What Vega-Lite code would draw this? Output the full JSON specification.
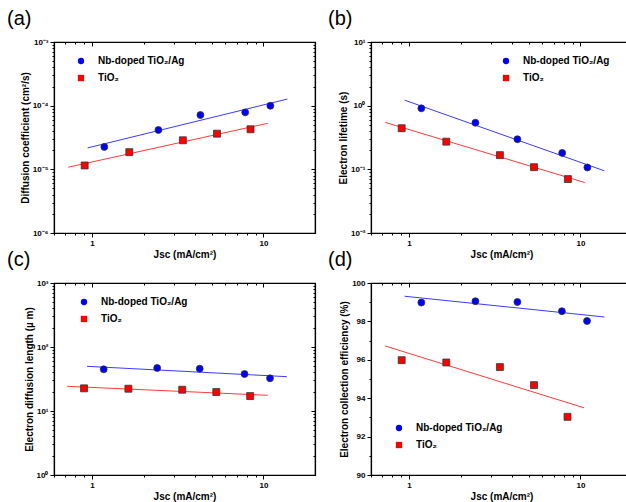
{
  "$schema": "https://vega.github.io/schema/vega-lite/v6.json",
  "padding": {"left": 6, "top": 8, "right": 0, "bottom": 0},
  "datasets": {
    "points": [
      {"panel": "a", "series": "Nb-doped TiO₂/Ag", "x": 1.18, "y": 2.25e-5},
      {"panel": "a", "series": "Nb-doped TiO₂/Ag", "x": 2.44, "y": 4.15e-5},
      {"panel": "a", "series": "Nb-doped TiO₂/Ag", "x": 4.29, "y": 7.13e-5},
      {"panel": "a", "series": "Nb-doped TiO₂/Ag", "x": 7.83, "y": 7.85e-5},
      {"panel": "a", "series": "Nb-doped TiO₂/Ag", "x": 10.98, "y": 9.95e-5},
      {"panel": "a", "series": "TiO₂", "x": 0.906, "y": 1.15e-5},
      {"panel": "a", "series": "TiO₂", "x": 1.65, "y": 1.86e-5},
      {"panel": "a", "series": "TiO₂", "x": 3.39, "y": 2.86e-5},
      {"panel": "a", "series": "TiO₂", "x": 5.36, "y": 3.63e-5},
      {"panel": "a", "series": "TiO₂", "x": 8.41, "y": 4.26e-5},
      {"panel": "b", "series": "Nb-doped TiO₂/Ag", "x": 1.18, "y": 0.908},
      {"panel": "b", "series": "Nb-doped TiO₂/Ag", "x": 2.44, "y": 0.539},
      {"panel": "b", "series": "Nb-doped TiO₂/Ag", "x": 4.29, "y": 0.297},
      {"panel": "b", "series": "Nb-doped TiO₂/Ag", "x": 7.83, "y": 0.181},
      {"panel": "b", "series": "Nb-doped TiO₂/Ag", "x": 10.98, "y": 0.107},
      {"panel": "b", "series": "TiO₂", "x": 0.906, "y": 0.442},
      {"panel": "b", "series": "TiO₂", "x": 1.65, "y": 0.272},
      {"panel": "b", "series": "TiO₂", "x": 3.39, "y": 0.167},
      {"panel": "b", "series": "TiO₂", "x": 5.36, "y": 0.108},
      {"panel": "b", "series": "TiO₂", "x": 8.45, "y": 0.0703},
      {"panel": "c", "series": "Nb-doped TiO₂/Ag", "x": 1.17, "y": 44.8},
      {"panel": "c", "series": "Nb-doped TiO₂/Ag", "x": 2.4, "y": 47},
      {"panel": "c", "series": "Nb-doped TiO₂/Ag", "x": 4.25, "y": 45.8},
      {"panel": "c", "series": "Nb-doped TiO₂/Ag", "x": 7.76, "y": 37.8},
      {"panel": "c", "series": "Nb-doped TiO₂/Ag", "x": 10.93, "y": 32.4},
      {"panel": "c", "series": "TiO₂", "x": 0.898, "y": 22.6},
      {"panel": "c", "series": "TiO₂", "x": 1.63, "y": 22.3},
      {"panel": "c", "series": "TiO₂", "x": 3.36, "y": 21.5},
      {"panel": "c", "series": "TiO₂", "x": 5.31, "y": 19.8},
      {"panel": "c", "series": "TiO₂", "x": 8.37, "y": 17.1},
      {"panel": "d", "series": "Nb-doped TiO₂/Ag", "x": 1.18, "y": 98.98},
      {"panel": "d", "series": "Nb-doped TiO₂/Ag", "x": 2.44, "y": 99.05},
      {"panel": "d", "series": "Nb-doped TiO₂/Ag", "x": 4.29, "y": 99.01},
      {"panel": "d", "series": "Nb-doped TiO₂/Ag", "x": 7.8, "y": 98.53},
      {"panel": "d", "series": "Nb-doped TiO₂/Ag", "x": 10.93, "y": 98.02},
      {"panel": "d", "series": "TiO₂", "x": 0.906, "y": 95.98},
      {"panel": "d", "series": "TiO₂", "x": 1.65, "y": 95.86},
      {"panel": "d", "series": "TiO₂", "x": 3.39, "y": 95.62},
      {"panel": "d", "series": "TiO₂", "x": 5.36, "y": 94.68},
      {"panel": "d", "series": "TiO₂", "x": 8.41, "y": 93.03}
    ],
    "fits": [
      {"panel": "a", "series": "Nb-doped TiO₂/Ag", "x": 0.943, "y": 2.17e-5},
      {"panel": "a", "series": "Nb-doped TiO₂/Ag", "x": 13.8, "y": 1.27e-4},
      {"panel": "a", "series": "TiO₂", "x": 0.726, "y": 1.08e-5},
      {"panel": "a", "series": "TiO₂", "x": 10.6, "y": 5.29e-5},
      {"panel": "b", "series": "Nb-doped TiO₂/Ag", "x": 0.943, "y": 1.22},
      {"panel": "b", "series": "Nb-doped TiO₂/Ag", "x": 13.8, "y": 0.0948},
      {"panel": "b", "series": "TiO₂", "x": 0.726, "y": 0.547},
      {"panel": "b", "series": "TiO₂", "x": 10.6, "y": 0.0621},
      {"panel": "c", "series": "Nb-doped TiO₂/Ag", "x": 0.935, "y": 49.9},
      {"panel": "c", "series": "Nb-doped TiO₂/Ag", "x": 13.7, "y": 34.4},
      {"panel": "c", "series": "TiO₂", "x": 0.716, "y": 24.3},
      {"panel": "c", "series": "TiO₂", "x": 10.6, "y": 17.6},
      {"panel": "d", "series": "Nb-doped TiO₂/Ag", "x": 0.943, "y": 99.31},
      {"panel": "d", "series": "Nb-doped TiO₂/Ag", "x": 13.8, "y": 98.23},
      {"panel": "d", "series": "TiO₂", "x": 0.726, "y": 96.72},
      {"panel": "d", "series": "TiO₂", "x": 10.5, "y": 93.5}
    ]
  },
  "columns": 2,
  "spacing": {"row": -11, "column": 10},
  "resolve": {
    "scale": {"fill": "independent", "shape": "independent"},
    "legend": {"fill": "independent", "shape": "independent"}
  },
  "concat": [
    {
      "width": 261, "height": 191,
      "title": {"text": "(a)", "anchor": "start", "frame": "group", "dx": -47, "offset": 9},
      "layer": [
        {
          "data": {"name": "fits"},
          "transform": [{"filter": "datum.panel == 'a' && datum.series == 'TiO₂'"}],
          "mark": {"type": "line", "strokeWidth": 1, "clip": true, "color": "#ff3a3a"},
          "encoding": {
            "x": {"field": "x", "type": "quantitative", "scale": {"type": "log", "domain": [0.6, 20], "nice": false},
                  "axis": {"orient": "top", "labels": false, "title": null, "values": [0.6,0.7,0.8,0.9,1,2,3,4,5,6,7,8,9,10],
                           "tickSize": {"expr": "datum.value == 1 || datum.value == 10 ? -4 : -2"}}},
            "y": {"field": "y", "type": "quantitative", "scale": {"type": "log", "domain": [1e-6, 1e-3], "nice": false},
                  "axis": {"orient": "right", "labels": false, "title": null,
                           "values": [1e-6,2e-6,3e-6,4e-6,5e-6,6e-6,7e-6,8e-6,9e-6,1e-5,2e-5,3e-5,4e-5,5e-5,6e-5,7e-5,8e-5,9e-5,1e-4,2e-4,3e-4,4e-4,5e-4,6e-4,7e-4,8e-4,9e-4,1e-3],
                           "tickSize": {"expr": "abs(log(datum.value)/LN10 - round(log(datum.value)/LN10)) < 0.001 ? -4 : -2"}}}
          }
        },
        {
          "data": {"name": "fits"},
          "transform": [{"filter": "datum.panel == 'a' && datum.series != 'TiO₂'"}],
          "mark": {"type": "line", "strokeWidth": 1, "clip": true, "color": "#3a3aff"},
          "encoding": {
            "x": {"field": "x", "type": "quantitative", "scale": {"type": "log", "domain": [0.6, 20], "nice": false}, "axis": null},
            "y": {"field": "y", "type": "quantitative", "scale": {"type": "log", "domain": [1e-6, 1e-3], "nice": false}, "axis": null}
          }
        },
        {
          "data": {"name": "points"},
          "transform": [{"filter": "datum.panel == 'a'"}],
          "mark": {"type": "point", "filled": true, "stroke": "#333333", "strokeWidth": 0.8, "size": 48, "opacity": 1},
          "encoding": {
            "x": {"field": "x", "type": "quantitative", "scale": {"type": "log", "domain": [0.6, 20], "nice": false},
                  "axis": {"orient": "bottom", "title": "Jsc (mA/cm²)", "values": [0.6,0.7,0.8,0.9,1,2,3,4,5,6,7,8,9,10],
                           "labelExpr": "datum.value == 1 ? '1' : datum.value == 10 ? '10' : ''",
                           "tickSize": {"expr": "datum.value == 1 || datum.value == 10 ? 4 : 2"}}},
            "y": {"field": "y", "type": "quantitative", "scale": {"type": "log", "domain": [1e-6, 1e-3], "nice": false},
                  "axis": {"orient": "left", "title": "Diffusion coefficient (cm²/s)",
                           "values": [1e-6,2e-6,3e-6,4e-6,5e-6,6e-6,7e-6,8e-6,9e-6,1e-5,2e-5,3e-5,4e-5,5e-5,6e-5,7e-5,8e-5,9e-5,1e-4,2e-4,3e-4,4e-4,5e-4,6e-4,7e-4,8e-4,9e-4,1e-3],
                           "labelExpr": "datum.value == 1e-6 ? '10⁻⁶' : datum.value == 1e-5 ? '10⁻⁵' : datum.value == 1e-4 ? '10⁻⁴' : datum.value == 1e-3 ? '10⁻³' : ''",
                           "tickSize": {"expr": "abs(log(datum.value)/LN10 - round(log(datum.value)/LN10)) < 0.001 ? 4 : 2"}}},
            "fill": {"field": "series", "type": "nominal", "scale": {"domain": ["Nb-doped TiO₂/Ag", "TiO₂"], "range": ["#0000ff", "#ff0000"]},
                     "legend": {"orient": "none", "legendX": 22, "legendY": 14, "title": null}},
            "shape": {"field": "series", "type": "nominal", "scale": {"domain": ["Nb-doped TiO₂/Ag", "TiO₂"], "range": ["circle", "square"]},
                      "legend": {"orient": "none", "legendX": 22, "legendY": 14, "title": null}}
          }
        }
      ],
      "resolve": {"axis": {"x": "independent", "y": "independent"}}
    },
    {
      "width": 261, "height": 191,
      "title": {"text": "(b)", "anchor": "start", "frame": "group", "dx": -43, "offset": 9},
      "layer": [
        {
          "data": {"name": "fits"},
          "transform": [{"filter": "datum.panel == 'b' && datum.series == 'TiO₂'"}],
          "mark": {"type": "line", "strokeWidth": 1, "clip": true, "color": "#ff3a3a"},
          "encoding": {
            "x": {"field": "x", "type": "quantitative", "scale": {"type": "log", "domain": [0.6, 20], "nice": false},
                  "axis": {"orient": "top", "labels": false, "title": null, "values": [0.6,0.7,0.8,0.9,1,2,3,4,5,6,7,8,9,10],
                           "tickSize": {"expr": "datum.value == 1 || datum.value == 10 ? -4 : -2"}}},
            "y": {"field": "y", "type": "quantitative", "scale": {"type": "log", "domain": [0.01, 10], "nice": false},
                  "axis": {"orient": "right", "labels": false, "title": null,
                           "values": [0.01,0.02,0.03,0.04,0.05,0.06,0.07,0.08,0.09,0.1,0.2,0.3,0.4,0.5,0.6,0.7,0.8,0.9,1,2,3,4,5,6,7,8,9,10],
                           "tickSize": {"expr": "abs(log(datum.value)/LN10 - round(log(datum.value)/LN10)) < 0.001 ? -4 : -2"}}}
          }
        },
        {
          "data": {"name": "fits"},
          "transform": [{"filter": "datum.panel == 'b' && datum.series != 'TiO₂'"}],
          "mark": {"type": "line", "strokeWidth": 1, "clip": true, "color": "#3a3aff"},
          "encoding": {
            "x": {"field": "x", "type": "quantitative", "scale": {"type": "log", "domain": [0.6, 20], "nice": false}, "axis": null},
            "y": {"field": "y", "type": "quantitative", "scale": {"type": "log", "domain": [0.01, 10], "nice": false}, "axis": null}
          }
        },
        {
          "data": {"name": "points"},
          "transform": [{"filter": "datum.panel == 'b'"}],
          "mark": {"type": "point", "filled": true, "stroke": "#333333", "strokeWidth": 0.8, "size": 48, "opacity": 1},
          "encoding": {
            "x": {"field": "x", "type": "quantitative", "scale": {"type": "log", "domain": [0.6, 20], "nice": false},
                  "axis": {"orient": "bottom", "title": "Jsc (mA/cm²)", "values": [0.6,0.7,0.8,0.9,1,2,3,4,5,6,7,8,9,10],
                           "labelExpr": "datum.value == 1 ? '1' : datum.value == 10 ? '10' : ''",
                           "tickSize": {"expr": "datum.value == 1 || datum.value == 10 ? 4 : 2"}}},
            "y": {"field": "y", "type": "quantitative", "scale": {"type": "log", "domain": [0.01, 10], "nice": false},
                  "axis": {"orient": "left", "title": "Electron lifetime (s)",
                           "values": [0.01,0.02,0.03,0.04,0.05,0.06,0.07,0.08,0.09,0.1,0.2,0.3,0.4,0.5,0.6,0.7,0.8,0.9,1,2,3,4,5,6,7,8,9,10],
                           "labelExpr": "datum.value == 0.01 ? '10⁻²' : datum.value == 0.1 ? '10⁻¹' : datum.value == 1 ? '10⁰' : datum.value == 10 ? '10¹' : ''",
                           "tickSize": {"expr": "abs(log(datum.value)/LN10 - round(log(datum.value)/LN10)) < 0.001 ? 4 : 2"}}},
            "fill": {"field": "series", "type": "nominal", "scale": {"domain": ["Nb-doped TiO₂/Ag", "TiO₂"], "range": ["#0000ff", "#ff0000"]},
                     "legend": {"orient": "none", "legendX": 130, "legendY": 14, "title": null}},
            "shape": {"field": "series", "type": "nominal", "scale": {"domain": ["Nb-doped TiO₂/Ag", "TiO₂"], "range": ["circle", "square"]},
                      "legend": {"orient": "none", "legendX": 130, "legendY": 14, "title": null}}
          }
        }
      ],
      "resolve": {"axis": {"x": "independent", "y": "independent"}}
    },
    {
      "width": 261, "height": 192,
      "title": {"text": "(c)", "anchor": "start", "frame": "group", "dx": -47, "offset": 9},
      "layer": [
        {
          "data": {"name": "fits"},
          "transform": [{"filter": "datum.panel == 'c' && datum.series == 'TiO₂'"}],
          "mark": {"type": "line", "strokeWidth": 1, "clip": true, "color": "#ff3a3a"},
          "encoding": {
            "x": {"field": "x", "type": "quantitative", "scale": {"type": "log", "domain": [0.6, 20], "nice": false},
                  "axis": {"orient": "top", "labels": false, "title": null, "values": [0.6,0.7,0.8,0.9,1,2,3,4,5,6,7,8,9,10],
                           "tickSize": {"expr": "datum.value == 1 || datum.value == 10 ? -4 : -2"}}},
            "y": {"field": "y", "type": "quantitative", "scale": {"type": "log", "domain": [1, 1000], "nice": false},
                  "axis": {"orient": "right", "labels": false, "title": null,
                           "values": [1,2,3,4,5,6,7,8,9,10,20,30,40,50,60,70,80,90,100,200,300,400,500,600,700,800,900,1000],
                           "tickSize": {"expr": "abs(log(datum.value)/LN10 - round(log(datum.value)/LN10)) < 0.001 ? -4 : -2"}}}
          }
        },
        {
          "data": {"name": "fits"},
          "transform": [{"filter": "datum.panel == 'c' && datum.series != 'TiO₂'"}],
          "mark": {"type": "line", "strokeWidth": 1, "clip": true, "color": "#3a3aff"},
          "encoding": {
            "x": {"field": "x", "type": "quantitative", "scale": {"type": "log", "domain": [0.6, 20], "nice": false}, "axis": null},
            "y": {"field": "y", "type": "quantitative", "scale": {"type": "log", "domain": [1, 1000], "nice": false}, "axis": null}
          }
        },
        {
          "data": {"name": "points"},
          "transform": [{"filter": "datum.panel == 'c'"}],
          "mark": {"type": "point", "filled": true, "stroke": "#333333", "strokeWidth": 0.8, "size": 48, "opacity": 1},
          "encoding": {
            "x": {"field": "x", "type": "quantitative", "scale": {"type": "log", "domain": [0.6, 20], "nice": false},
                  "axis": {"orient": "bottom", "title": "Jsc (mA/cm²)", "values": [0.6,0.7,0.8,0.9,1,2,3,4,5,6,7,8,9,10],
                           "labelExpr": "datum.value == 1 ? '1' : datum.value == 10 ? '10' : ''",
                           "tickSize": {"expr": "datum.value == 1 || datum.value == 10 ? 4 : 2"}}},
            "y": {"field": "y", "type": "quantitative", "scale": {"type": "log", "domain": [1, 1000], "nice": false},
                  "axis": {"orient": "left", "title": "Electron diffusion length (µ m)",
                           "values": [1,2,3,4,5,6,7,8,9,10,20,30,40,50,60,70,80,90,100,200,300,400,500,600,700,800,900,1000],
                           "labelExpr": "datum.value == 1 ? '10⁰' : datum.value == 10 ? '10¹' : datum.value == 100 ? '10²' : datum.value == 1000 ? '10³' : ''",
                           "tickSize": {"expr": "abs(log(datum.value)/LN10 - round(log(datum.value)/LN10)) < 0.001 ? 4 : 2"}}},
            "fill": {"field": "series", "type": "nominal", "scale": {"domain": ["Nb-doped TiO₂/Ag", "TiO₂"], "range": ["#0000ff", "#ff0000"]},
                     "legend": {"orient": "none", "legendX": 25, "legendY": 14, "title": null}},
            "shape": {"field": "series", "type": "nominal", "scale": {"domain": ["Nb-doped TiO₂/Ag", "TiO₂"], "range": ["circle", "square"]},
                      "legend": {"orient": "none", "legendX": 25, "legendY": 14, "title": null}}
          }
        }
      ],
      "resolve": {"axis": {"x": "independent", "y": "independent"}}
    },
    {
      "width": 261, "height": 192,
      "title": {"text": "(d)", "anchor": "start", "frame": "group", "dx": -43, "offset": 9},
      "layer": [
        {
          "data": {"name": "fits"},
          "transform": [{"filter": "datum.panel == 'd' && datum.series == 'TiO₂'"}],
          "mark": {"type": "line", "strokeWidth": 1, "clip": true, "color": "#ff3a3a"},
          "encoding": {
            "x": {"field": "x", "type": "quantitative", "scale": {"type": "log", "domain": [0.6, 20], "nice": false},
                  "axis": {"orient": "top", "labels": false, "title": null, "values": [0.6,0.7,0.8,0.9,1,2,3,4,5,6,7,8,9,10],
                           "tickSize": {"expr": "datum.value == 1 || datum.value == 10 ? -4 : -2"}}},
            "y": {"field": "y", "type": "quantitative", "scale": {"type": "linear", "domain": [90, 100], "zero": false, "nice": false},
                  "axis": {"orient": "right", "labels": false, "title": null,
                           "values": [90,91,92,93,94,95,96,97,98,99,100],
                           "tickSize": {"expr": "datum.value % 2 == 0 ? -4 : -2"}}}
          }
        },
        {
          "data": {"name": "fits"},
          "transform": [{"filter": "datum.panel == 'd' && datum.series != 'TiO₂'"}],
          "mark": {"type": "line", "strokeWidth": 1, "clip": true, "color": "#3a3aff"},
          "encoding": {
            "x": {"field": "x", "type": "quantitative", "scale": {"type": "log", "domain": [0.6, 20], "nice": false}, "axis": null},
            "y": {"field": "y", "type": "quantitative", "scale": {"type": "linear", "domain": [90, 100], "zero": false, "nice": false}, "axis": null}
          }
        },
        {
          "data": {"name": "points"},
          "transform": [{"filter": "datum.panel == 'd'"}],
          "mark": {"type": "point", "filled": true, "stroke": "#333333", "strokeWidth": 0.8, "size": 48, "opacity": 1},
          "encoding": {
            "x": {"field": "x", "type": "quantitative", "scale": {"type": "log", "domain": [0.6, 20], "nice": false},
                  "axis": {"orient": "bottom", "title": "Jsc (mA/cm²)", "values": [0.6,0.7,0.8,0.9,1,2,3,4,5,6,7,8,9,10],
                           "labelExpr": "datum.value == 1 ? '1' : datum.value == 10 ? '10' : ''",
                           "tickSize": {"expr": "datum.value == 1 || datum.value == 10 ? 4 : 2"}}},
            "y": {"field": "y", "type": "quantitative", "scale": {"type": "linear", "domain": [90, 100], "zero": false, "nice": false},
                  "axis": {"orient": "left", "title": "Electron collection efficiency (%)",
                           "values": [90,91,92,93,94,95,96,97,98,99,100],
                           "labelExpr": "datum.value % 2 == 0 ? datum.label : ''",
                           "tickSize": {"expr": "datum.value % 2 == 0 ? 4 : 2"}}},
            "fill": {"field": "series", "type": "nominal", "scale": {"domain": ["Nb-doped TiO₂/Ag", "TiO₂"], "range": ["#0000ff", "#ff0000"]},
                     "legend": {"orient": "none", "legendX": 23, "legendY": 140, "title": null}},
            "shape": {"field": "series", "type": "nominal", "scale": {"domain": ["Nb-doped TiO₂/Ag", "TiO₂"], "range": ["circle", "square"]},
                      "legend": {"orient": "none", "legendX": 23, "legendY": 140, "title": null}}
          }
        }
      ],
      "resolve": {"axis": {"x": "independent", "y": "independent"}}
    }
  ],
  "config": {
    "font": "Liberation Sans",
    "view": {"stroke": "#000000", "strokeWidth": 1.2},
    "title": {"font": "Liberation Sans", "fontSize": 20, "fontWeight": "normal", "color": "#000000"},
    "axis": {
      "grid": false,
      "domainColor": "#000000", "domainWidth": 1.2,
      "tickColor": "#000000", "tickWidth": 1,
      "labelFont": "Liberation Sans", "labelFontSize": 8, "labelFontWeight": "bold", "labelColor": "#000000", "labelPadding": 2,
      "titleFont": "Liberation Sans", "titleFontSize": 10, "titleFontWeight": "bold", "titleColor": "#000000", "titlePadding": 2,
      "labelOverlap": false
    },
    "legend": {
      "labelFont": "Liberation Sans", "labelFontSize": 10, "labelFontWeight": "bold", "labelColor": "#000000",
      "symbolSize": 40, "symbolStrokeColor": "#333333", "symbolStrokeWidth": 0.8, "rowPadding": 7, "labelOffset": 12, "padding": 0
    }
  }
}
